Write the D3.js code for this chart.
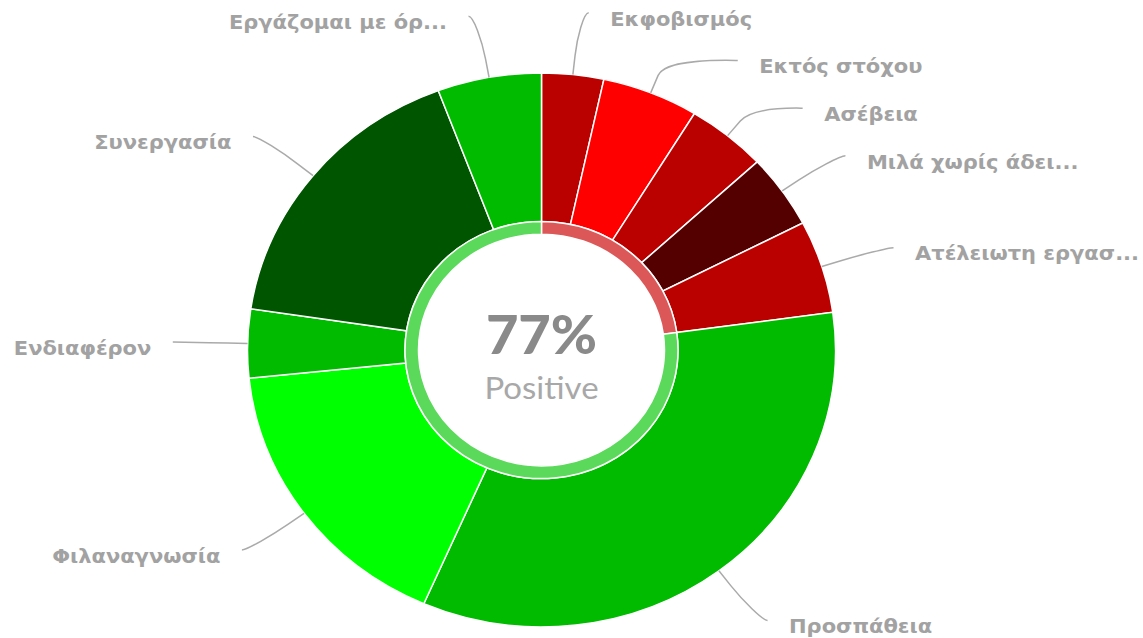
<!DOCTYPE html>
<html><head><meta charset="utf-8">
<script src="https://cdn.jsdelivr.net/npm/d3@7"></script>
<style>body{margin:0;background:#fff;overflow:hidden}</style>
</head><body>
<svg id="chart" width="1143" height="638"></svg>
<script>
// ---- data ----
const categories = ["Εκφοβισμός","Εκτός στόχου","Ασέβεια","Μιλά χωρίς άδει...","Ατέλειωτη εργασ...","Προσπάθεια","Φιλαναγνωσία","Ενδιαφέρον","Συνεργασία","Εργάζομαι με όρ..."];
const values = [3.4, 5.3, 4.4, 4.3, 5.4, 33.7, 16.8, 4.0, 16.9, 5.7];
const sentiment = ["neg","neg","neg","neg","neg","pos","pos","pos","pos","pos"];
const sliceColors = ["#bb0000","#ff0000","#bb0000","#550000","#bb0000","#00bb00","#00ff00","#00bb00","#005500","#00bb00"];
const ringColors = {neg:"#dc5858", pos:"#5ad95a"};
const centerLabel = "Positive";

// ---- layout ----
const cx = 541.5, cy = 350, ky = 0.942;
const rOuter = 294, rInner = 136.5, ringInner = 123, ringOuter = 136.5;

const svg = d3.select("#chart");
const g = svg.append("g").attr("transform", `translate(${cx},${cy}) scale(1,${ky})`);

const data = categories.map((c,i)=>({cat:c, value:values[i], color:sliceColors[i], s:sentiment[i]}));
const pie = d3.pie().sort(null).value(d=>d.value);
const arcs = pie(data);
const arc = d3.arc().innerRadius(rInner).outerRadius(rOuter);

g.selectAll("path.slice").data(arcs).join("path")
  .attr("class","slice")
  .attr("d", arc)
  .attr("fill", d=>d.data.color)
  .attr("stroke","#fff").attr("stroke-width",1.5)
  .attr("vector-effect","non-scaling-stroke");

// ring: share of negative / positive
const total = d3.sum(values);
const negSum = d3.sum(data.filter(d=>d.s==="neg"), d=>d.value);
const posSum = total - negSum;
const ringData = [{k:"neg", v:negSum},{k:"pos", v:posSum}];
const ringArcs = d3.pie().sort(null).value(d=>d.v)(ringData);
const ringArc = d3.arc().innerRadius(ringInner).outerRadius(ringOuter);
g.selectAll("path.ring").data(ringArcs).join("path")
  .attr("class","ring")
  .attr("d", ringArc)
  .attr("fill", d=>ringColors[d.data.k])
  .attr("stroke","#fff").attr("stroke-width",1.5)
  .attr("vector-effect","non-scaling-stroke");

// center text
g.append("text").attr("x",0).attr("y",4)
  .attr("text-anchor","middle")
  .attr("font-family","Lato, 'Open Sans', sans-serif").attr("font-weight",900)
  .attr("font-size",56).attr("fill","#8a8a8a")
  .text(Math.round(posSum/total*100) + "%");
g.append("text").attr("x",0).attr("y",52)
  .attr("text-anchor","middle")
  .attr("font-family","Lato, 'Open Sans', sans-serif").attr("font-weight",400)
  .attr("font-size",33).attr("fill","#a8a8a8")
  .text(centerLabel);

// labels
const labelR = 360, xPad = 8.8, spacing = 50.6, breakR = rOuter + 20, textGap = 21.5;
const items = arcs.map(a=>{
  const mid = (a.startAngle + a.endAngle)/2;
  return {a, mid, side: mid < Math.PI ? 1 : -1, y: -labelR*Math.cos(mid)};
});
[1,-1].forEach(side=>{
  const list = items.filter(d=>d.side===side).sort((p,q)=>p.y-q.y);
  for (let i=1;i<list.length;i++) list[i].y = Math.max(list[i].y, list[i-1].y + spacing);
});
items.forEach(d=>{
  d.x = d.side*(Math.sqrt(Math.max(0, labelR*labelR - d.y*d.y)) + xPad);
  const s = Math.sin(d.mid), c = -Math.cos(d.mid);
  d.edge = [rOuter*s, rOuter*c];
  d.brk = [breakR*s, breakR*c];
});

g.selectAll("path.leader").data(items).join("path")
  .attr("class","leader")
  .attr("d", d=>`M${d.x},${d.y} C${d.x - d.side*5},${d.y} ${2*d.brk[0]-d.edge[0]},${2*d.brk[1]-d.edge[1]} ${d.brk[0]},${d.brk[1]} L${d.edge[0]},${d.edge[1]}`)
  .attr("fill","none").attr("stroke","#aaaaaa").attr("stroke-width",1.5)
  .attr("vector-effect","non-scaling-stroke");

g.selectAll("text.lbl").data(items).join("text")
  .attr("class","lbl")
  .attr("x", d=>d.x + d.side*textGap)
  .attr("y", d=>d.y + 6.4)
  .attr("dominant-baseline","central")
  .attr("text-anchor", d=>d.side>0 ? "start" : "end")
  .attr("font-family","'DejaVu Sans', Verdana, sans-serif").attr("font-weight",700)
  .attr("font-size",21).attr("fill","#a2a2a2")
  .text(d=>d.a.data.cat);
</script>
</body></html>
